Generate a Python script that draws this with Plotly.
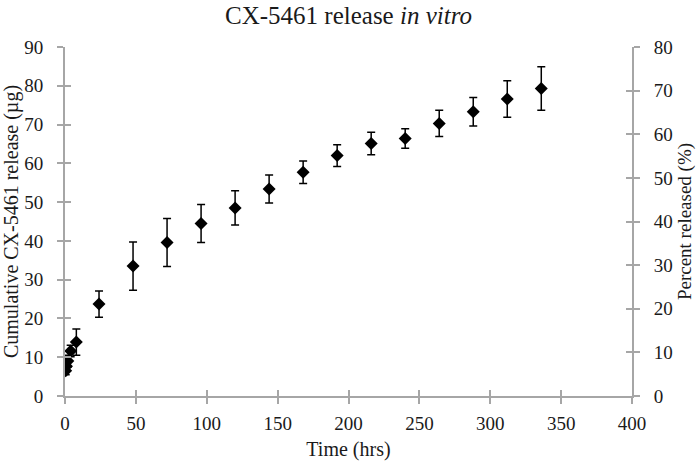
import plotly.graph_objects as go

# ── data ──────────────────────────────────────────────────────────────────────

hours = [0.5, 1, 2, 4, 8, 24, 48, 72, 96, 120, 144, 168, 192, 216, 240, 264, 288, 312, 336]
release_ug = [6.5, 7.7, 9.0, 11.6, 13.9, 23.7, 33.5, 39.6, 44.5, 48.5, 53.4, 57.7, 62.0, 65.1, 66.4, 70.3, 73.3, 76.6, 79.3]
error_ug = [1.0, 1.2, 1.5, 1.5, 3.4, 3.4, 6.2, 6.2, 4.9, 4.4, 3.6, 2.9, 2.8, 2.9, 2.5, 3.4, 3.7, 4.7, 5.6]

left_ticks = [0, 10, 20, 30, 40, 50, 60, 70, 80, 90]
right_ticks = [0, 10, 20, 30, 40, 50, 60, 70, 80]
x_ticks = [0, 50, 100, 150, 200, 250, 300, 350, 400]

FONT = "Liberation Serif, Times New Roman, serif"
AXIS_GREY = "#a6a6a6"
TEXT = "#1a1a1a"

# ── figure ────────────────────────────────────────────────────────────────────

fig = go.Figure()

fig.add_trace(go.Scatter(
    x=hours,
    y=release_ug,
    mode="markers",
    marker=dict(symbol="diamond", size=10, color="black"),
    error_y=dict(type="data", array=error_ug, visible=True,
                 color="black", thickness=1.5, width=4),
    showlegend=False,
))

# empty traces so the right axis and the "inside" tick halves get drawn
# (Excel-style ticks that cross the axis line)
for xa, ya in [("x2", "y2"), ("x2", "y3"), ("x2", "y4")]:
    fig.add_trace(go.Scatter(x=[None], y=[None], xaxis=xa, yaxis=ya,
                             mode="markers", showlegend=False, hoverinfo="skip"))

axis_common = dict(
    showgrid=False,
    zeroline=False,
    showline=True,
    linecolor=AXIS_GREY,
    linewidth=2,
    ticklen=6,
    tickwidth=2,
    tickcolor=AXIS_GREY,
    automargin=False,
    tickfont=dict(family=FONT, size=19, color=TEXT),
)
title_font = dict(family=FONT, size=20, color=TEXT)

fig.update_layout(
    width=700,
    height=461,
    margin=dict(l=65, r=68, t=47, b=65),
    paper_bgcolor="white",
    plot_bgcolor="white",
    font=dict(family=FONT, color=TEXT),
    title=dict(
        text="CX-5461 release <i>in vitro</i>",
        x=0.5, xref="paper", xanchor="center",
        y=0.985, yref="container", yanchor="top",
        font=dict(family=FONT, size=25, color=TEXT),
    ),
    xaxis=dict(
        axis_common,
        range=[0, 400],
        tickvals=x_ticks,
        ticks="outside",
        ticklabelstandoff=3,
        title=dict(text="Time (hrs)", font=title_font, standoff=11),
    ),
    xaxis2=dict(
        axis_common,
        range=[0, 400],
        tickvals=x_ticks,
        ticks="inside",
        showticklabels=False,
        overlaying="x",
        side="bottom",
        anchor="y",
    ),
    yaxis=dict(
        axis_common,
        range=[0, 90],
        tickvals=left_ticks,
        ticks="outside",
        ticklabelstandoff=10,
        title=dict(text="Cumulative CX-5461 release (µg)", font=title_font, standoff=8),
    ),
    yaxis3=dict(
        axis_common,
        range=[0, 90],
        tickvals=left_ticks,
        ticks="inside",
        showticklabels=False,
        overlaying="y",
        side="left",
        anchor="x",
    ),
    yaxis2=dict(
        axis_common,
        range=[0, 80],
        tickvals=right_ticks,
        ticks="outside",
        ticklabelstandoff=10,
        overlaying="y",
        side="right",
        anchor="x",
        title=dict(text="Percent released (%)", font=dict(title_font, size=19), standoff=6),
    ),
    yaxis4=dict(
        axis_common,
        range=[0, 80],
        tickvals=right_ticks,
        ticks="inside",
        showticklabels=False,
        overlaying="y",
        side="right",
        anchor="x",
    ),
)

# drop the browser's default 8px body margin so the figure sits at 0,0
fig.write_html(
    "out.html",
    config={"displayModeBar": False},
    post_script="document.body.style.margin='0';",
)
